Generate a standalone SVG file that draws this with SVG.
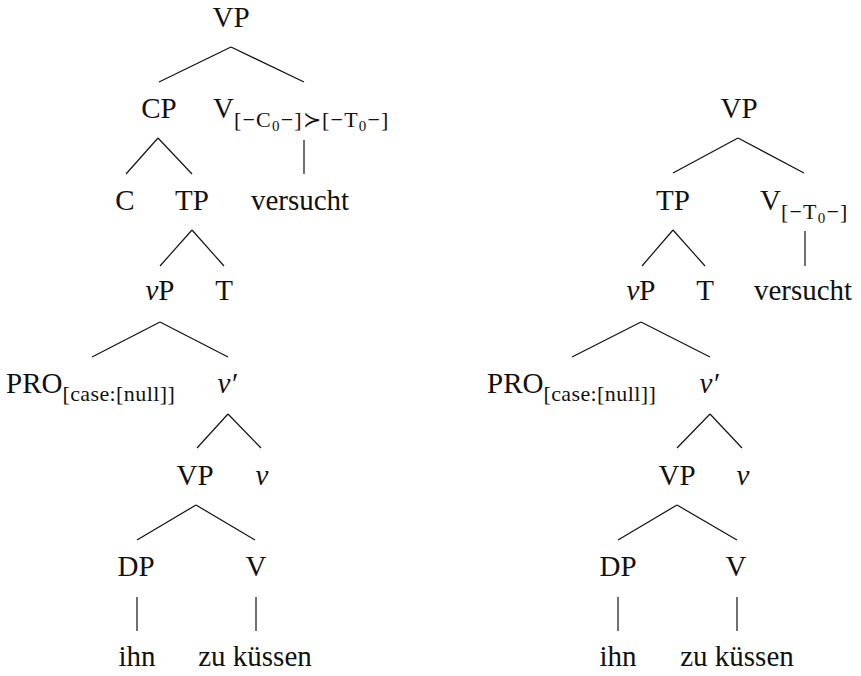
<svg xmlns="http://www.w3.org/2000/svg" width="861" height="676" viewBox="0 0 861 676">
<style>
text{font-family:"Liberation Serif","DejaVu Serif","Times New Roman",serif;fill:#111;font-size:29px}
.m{text-anchor:middle}
.s{font-size:22px}
.ss{font-size:15px}
.sp{letter-spacing:1.2px}
.sq{letter-spacing:0.4px}
.i{font-style:italic}
#edges line{stroke:#111;stroke-width:1.2}
</style>
<rect width="861" height="676" fill="#fff"/>
<g id="edges">
<line x1="231" y1="47" x2="159" y2="82"/><line x1="231" y1="47" x2="304" y2="82"/>
<line x1="158" y1="138" x2="126" y2="174"/><line x1="158" y1="138" x2="192" y2="174"/>
<line x1="304" y1="140" x2="304" y2="174"/>
<line x1="192" y1="230" x2="160" y2="266"/><line x1="192" y1="230" x2="224" y2="266"/>
<line x1="160" y1="322" x2="92" y2="357"/><line x1="160" y1="322" x2="228" y2="357"/>
<line x1="228" y1="414" x2="197" y2="448"/><line x1="228" y1="414" x2="261" y2="448"/>
<line x1="196" y1="505" x2="137" y2="540"/><line x1="196" y1="505" x2="255" y2="540"/>
<line x1="137" y1="597" x2="137" y2="631"/><line x1="256" y1="597" x2="256" y2="631"/>
<line x1="738" y1="138" x2="673" y2="173"/><line x1="738" y1="138" x2="804" y2="173"/>
<line x1="805" y1="231" x2="805" y2="266"/>
<line x1="673" y1="230" x2="642" y2="266"/><line x1="673" y1="230" x2="705" y2="266"/>
<line x1="641" y1="322" x2="572" y2="357"/><line x1="641" y1="322" x2="710" y2="357"/>
<line x1="710" y1="414" x2="677" y2="448"/><line x1="710" y1="414" x2="742" y2="448"/>
<line x1="677" y1="505" x2="618" y2="540"/><line x1="677" y1="505" x2="737" y2="540"/>
<line x1="618" y1="597" x2="618" y2="631"/><line x1="737" y1="597" x2="737" y2="631"/>
</g>
<g id="L-VP"><text class="m" x="231" y="27">VP</text></g>
<g id="L-CP"><text class="m" x="159" y="118">CP</text></g>
<g id="L-V"><text x="213" y="118">V<tspan class="s sp" dy="9">[−C</tspan><tspan class="ss sp" dy="4">0</tspan><tspan class="s sp" dy="-4">−]≻[−T</tspan><tspan class="ss sp" dy="4">0</tspan><tspan class="s sp" dy="-4">−]</tspan></text></g>
<g id="L-C"><text class="m" x="125" y="210">C</text></g>
<g id="L-TP"><text class="m" x="192" y="210">TP</text></g>
<g id="L-versucht"><text class="m" x="300" y="210">versucht</text></g>
<g id="L-vP"><text class="m" x="160" y="300"><tspan class="i">ν</tspan>P</text></g>
<g id="L-T"><text class="m" x="224" y="300">T</text></g>
<g id="L-PRO"><text x="6" y="393">PRO<tspan class="s sq" dy="8">[case:[null]]</tspan></text></g>
<g id="L-vbar"><text class="m i" x="227" y="393">ν′</text></g>
<g id="L-VP2"><text class="m" x="195" y="485">VP</text></g>
<g id="L-v"><text class="m i" x="262" y="485">ν</text></g>
<g id="L-DP"><text class="m" x="136" y="576">DP</text></g>
<g id="L-V2"><text class="m" x="256" y="576">V</text></g>
<g id="L-ihn"><text class="m" x="137" y="666">ihn</text></g>
<g id="L-zukuessen"><text class="m" x="255" y="666">zu küssen</text></g>

<g id="R-VP"><text class="m" x="739" y="118">VP</text></g>
<g id="R-TP"><text class="m" x="673" y="210">TP</text></g>
<g id="R-V"><text x="760" y="210">V<tspan class="s sp" dy="9">[−T</tspan><tspan class="ss sp" dy="4">0</tspan><tspan class="s sp" dy="-4">−]</tspan></text></g>
<g id="R-vP"><text class="m" x="641" y="300"><tspan class="i">ν</tspan>P</text></g>
<g id="R-T"><text class="m" x="705" y="300">T</text></g>
<g id="R-versucht"><text class="m" x="803" y="300">versucht</text></g>
<g id="R-PRO"><text x="487" y="393">PRO<tspan class="s sq" dy="8">[case:[null]]</tspan></text></g>
<g id="R-vbar"><text class="m i" x="709" y="393">ν′</text></g>
<g id="R-VP2"><text class="m" x="677" y="485">VP</text></g>
<g id="R-v"><text class="m i" x="743" y="485">ν</text></g>
<g id="R-DP"><text class="m" x="618" y="576">DP</text></g>
<g id="R-V2"><text class="m" x="736" y="576">V</text></g>
<g id="R-ihn"><text class="m" x="618" y="666">ihn</text></g>
<g id="R-zukuessen"><text class="m" x="737" y="666">zu küssen</text></g>
</svg>
